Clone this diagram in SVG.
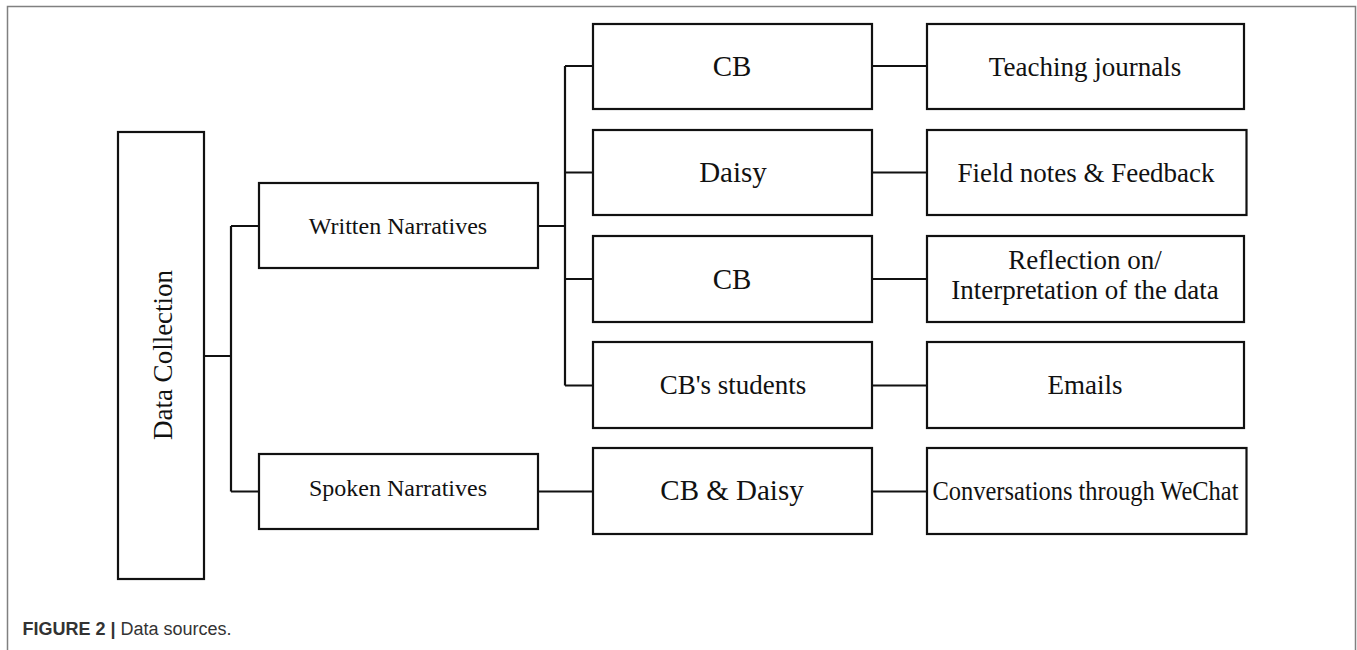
<svg xmlns="http://www.w3.org/2000/svg" width="1357" height="650" viewBox="0 0 1357 650">
<style>
.box{fill:#fff;stroke:#111;stroke-width:2.2}
.t{font-family:"Liberation Serif","Times New Roman",serif;fill:#111;text-anchor:middle}
.conn{fill:none;stroke:#111;stroke-width:2.2}
.frame{fill:none;stroke:#808080;stroke-width:1.5}
.cap{font-family:"Liberation Sans",Arial,sans-serif;fill:#333;font-size:18px}
</style>
<rect x="0" y="0" width="1357" height="650" fill="#fff"/>
<path class="frame" d="M7.5 650 V6.5 H1355.5 V650"/>
<g id="connectors">
<path class="conn" d="M204 356 H231 M231 226 V491.5 M231 226 H259 M231 491.5 H259"/>
<path class="conn" d="M538 226 H565 M565 66 V385.5 M565 66 H593 M565 172.5 H593 M565 279 H593 M565 385.5 H593"/>
<path class="conn" d="M538 491.5 H593"/>
<path class="conn" d="M872 66 H927 M872 172.5 H927 M872 279 H927 M872 385.5 H927 M872 491.5 H927"/>
</g>
<g id="data-collection">
<rect class="box" x="118" y="132" width="86" height="447"/>
<text class="t" font-size="27" transform="translate(171.5,355) rotate(-90)">Data Collection</text>
</g>
<g id="written-narratives">
<rect class="box" x="259" y="183" width="279" height="85"/>
<text class="t" x="398" y="233.5" font-size="24">Written Narratives</text>
</g>
<g id="spoken-narratives">
<rect class="box" x="259" y="454" width="279" height="75"/>
<text class="t" x="398" y="496" font-size="24">Spoken Narratives</text>
</g>
<g id="cb-1">
<rect class="box" x="593" y="24" width="279" height="85"/>
<text class="t" x="732" y="76" font-size="29">CB</text>
</g>
<g id="daisy">
<rect class="box" x="593" y="130" width="279" height="85"/>
<text class="t" x="733" y="182" font-size="29">Daisy</text>
</g>
<g id="cb-2">
<rect class="box" x="593" y="236" width="279" height="86"/>
<text class="t" x="732" y="288.5" font-size="29">CB</text>
</g>
<g id="cb-students">
<rect class="box" x="593" y="342" width="279" height="86"/>
<text class="t" x="733" y="393.5" font-size="27">CB's students</text>
</g>
<g id="cb-daisy">
<rect class="box" x="593" y="448" width="279" height="86"/>
<text class="t" x="732" y="500" font-size="29">CB &amp; Daisy</text>
</g>
<g id="teaching-journals">
<rect class="box" x="927" y="24" width="317" height="85"/>
<text class="t" x="1085" y="75.5" font-size="27">Teaching journals</text>
</g>
<g id="field-notes">
<rect class="box" x="927" y="130" width="319.5" height="85"/>
<text class="t" x="1086" y="182" font-size="27">Field notes &amp; Feedback</text>
</g>
<g id="reflection">
<rect class="box" x="927" y="236" width="317" height="86"/>
<text class="t" x="1085" y="268.5" font-size="27">Reflection on/</text>
<text class="t" x="1085" y="298.5" font-size="27">Interpretation of the data</text>
</g>
<g id="emails">
<rect class="box" x="927" y="342" width="317" height="86"/>
<text class="t" x="1085" y="393.5" font-size="27">Emails</text>
</g>
<g id="conversations">
<rect class="box" x="927" y="448" width="319.5" height="86"/>
<text class="t" x="1085.5" y="499.5" font-size="27" textLength="306" lengthAdjust="spacingAndGlyphs">Conversations through WeChat</text>
</g>
<text class="cap" x="22.5" y="634.5"><tspan font-weight="bold">FIGURE 2 |</tspan> Data sources.</text>
</svg>
